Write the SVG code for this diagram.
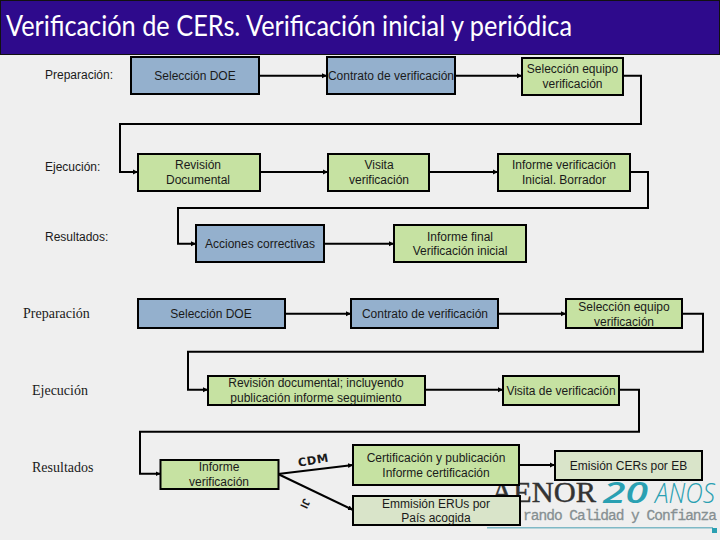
<svg xmlns="http://www.w3.org/2000/svg" width="720" height="540" viewBox="0 0 720 540">
<defs>
<marker id="arr" markerUnits="userSpaceOnUse" markerWidth="6" markerHeight="7" refX="5" refY="3.5" orient="auto"><path d="M0,1 L5,3.5 L0,6 Z" fill="#000"/></marker>
</defs>
<style>
text{font-family:"Liberation Sans",Arial,sans-serif;font-size:12px;fill:#1a1a1a;text-anchor:middle}
.b rect{stroke:#000;stroke-width:2}
.blue{fill:#94b0cd}
.green{fill:#c6e2a2}
.pale{fill:#d9e4c9}
.lab{text-anchor:start}
.ser{font-family:"Liberation Serif","Times New Roman",serif;font-size:14px;text-anchor:start}
#connectors path{fill:none;stroke:#000;stroke-width:2;marker-end:url(#arr)}
#connectors path.n{marker-end:none}
</style>
<rect width="720" height="540" fill="#efefef"/>
<g id="header">
<rect x="0.5" y="0.5" width="719" height="54" fill="#2e0a8c" stroke="#111"/>
<text x="6" y="36" style="font-family:Lato,sans-serif;font-size:28px;fill:#fff;text-anchor:start" textLength="566" lengthAdjust="spacingAndGlyphs">Verificación de CERs. Verificación inicial y periódica</text>
</g>
<g id="logo">
<text x="491" y="502" style="font-family:'Liberation Serif',serif;font-size:29px;fill:#333;stroke:#333;stroke-width:.4;text-anchor:start" textLength="105" lengthAdjust="spacingAndGlyphs">AENOR</text>
<text x="603" y="503" style="font-family:'Open Sans',sans-serif;font-size:29px;font-weight:600;font-style:italic;fill:#2aa0b2;text-anchor:start" textLength="45" lengthAdjust="spacingAndGlyphs">20</text>
<text x="655" y="503" style="font-family:'Open Sans',sans-serif;font-size:27px;font-style:italic;font-weight:300;fill:#2aa0b2;text-anchor:start" textLength="60" lengthAdjust="spacingAndGlyphs">AÑOS</text>
<text x="523" y="520" style="font-family:'Liberation Mono',monospace;font-size:14.5px;fill:#868f92;stroke:#868f92;stroke-width:.3;text-anchor:start" textLength="194" lengthAdjust="spacing">rando Calidad y Confianza</text>
<rect x="487" y="527" width="226" height="1.5" fill="#7fb9c6"/>
<rect x="712" y="528" width="5" height="5" fill="#2aa0b2"/>
</g>
<g id="labels">
<text class="lab" x="45" y="79">Preparación:</text>
<text class="lab" x="45" y="171">Ejecución:</text>
<text class="lab" x="45" y="241">Resultados:</text>
<text class="ser" x="23" y="318">Preparación</text>
<text class="ser" x="32" y="395">Ejecución</text>
<text class="ser" x="32" y="472">Resultados</text>
<text x="0" y="0" transform="translate(314,464) rotate(-10)" style="font-family:'DejaVu Sans',sans-serif;font-size:11.5px;font-weight:700;letter-spacing:.5px">CDM</text>
<text x="0" y="0" transform="translate(302,502) rotate(115)" style="font-family:'Liberation Sans',sans-serif;font-size:11px;font-weight:700">JI</text>
</g>
<g id="connectors">
<path d="M259,75.7H327"/>
<path d="M455,75.7H522"/>
<path d="M623,75.7H641V124H120V172H138"/>
<path d="M260,172H328"/>
<path d="M429,172H498"/>
<path d="M630,172H648V208H178V243.7H196"/>
<path d="M324,243.7H394"/>
<path d="M285,313.7H351"/>
<path d="M498,313.7H566"/>
<path d="M682,313.7H703V351.7H188V389.7H208"/>
<path d="M425,389.7H503"/>
<path d="M619,389.7H639V431.7H140V473.7H160.5"/>
<path d="M278,474L353,465"/>
<path d="M278,474L353,510"/>
<path d="M519,465H555"/>
</g>
<g id="n1" class="b"><rect class="blue" x="131" y="57" width="128" height="37"/><text x="195" y="80">Selección DOE</text></g>
<g id="n2" class="b"><rect class="blue" x="327" y="57" width="128" height="37"/><text x="391" y="80">Contrato de verificación</text></g>
<g id="n3" class="b"><rect class="green" x="522" y="58" width="101" height="37"/><text x="572.5" y="73">Selección equipo</text><text x="572.5" y="88">verificación</text></g>
<g id="n4" class="b"><rect class="green" x="138" y="154" width="122" height="37"/><text x="198" y="169">Revisión</text><text x="198" y="184">Documental</text></g>
<g id="n5" class="b"><rect class="green" x="328" y="154" width="101" height="37"/><text x="379" y="169">Visita</text><text x="379" y="184">verificación</text></g>
<g id="n6" class="b"><rect class="green" x="498" y="154" width="132" height="37"/><text x="564" y="169">Informe verificación</text><text x="564" y="184">Inicial. Borrador</text></g>
<g id="n7" class="b"><rect class="blue" x="196" y="225" width="128" height="37"/><text x="260" y="248">Acciones correctivas</text></g>
<g id="n8" class="b"><rect class="green" x="394" y="225" width="132" height="37"/><text x="460" y="241">Informe final</text><text x="460" y="255">Verificación inicial</text></g>
<g id="n9" class="b"><rect class="blue" x="138" y="299" width="147" height="29"/><text x="211" y="318">Selección DOE</text></g>
<g id="n10" class="b"><rect class="blue" x="351" y="299" width="147" height="29"/><text x="425" y="318">Contrato de verificación</text></g>
<g id="n11" class="b"><rect class="green" x="566" y="299" width="116" height="29"/><text x="624" y="311">Selección equipo</text><text x="624" y="326">verificación</text></g>
<g id="n12" class="b"><rect class="green" x="208" y="376" width="217" height="29"/><text x="316" y="387">Revisión documental; incluyendo</text><text x="316" y="402">publicación informe seguimiento</text></g>
<g id="n13" class="b"><rect class="green" x="503" y="376" width="116" height="29"/><text x="561" y="395">Visita de verificación</text></g>
<g id="n14" class="b"><rect class="green" x="160.5" y="460" width="118" height="29"/><text x="219" y="471">Informe</text><text x="219" y="486">verificación</text></g>
<g id="n15" class="b"><rect class="green" x="353" y="445" width="166" height="40"/><text x="436" y="462">Certificación y publicación</text><text x="436" y="477">Informe certificación</text></g>
<g id="n16" class="b"><rect class="pale" x="353" y="496" width="167" height="29"/><text x="436" y="508">Emmisión ERUs por</text><text x="436" y="522">País acogida</text></g>
<g id="n17" class="b"><rect class="pale" x="555" y="451" width="147" height="29"/><text x="628.5" y="470">Emisión CERs por EB</text></g>
</svg>
